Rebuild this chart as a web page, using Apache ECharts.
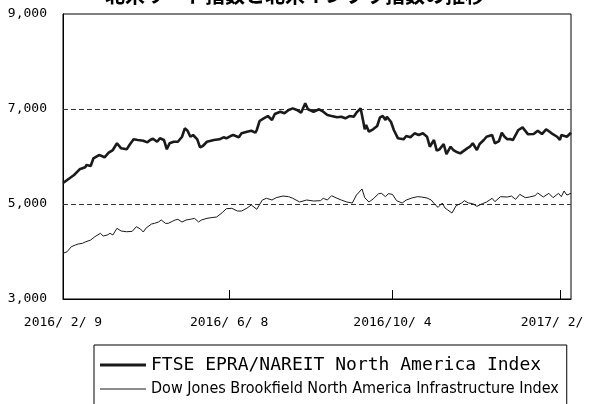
<!DOCTYPE html>
<html>
<head>
<meta charset="utf-8">
<script src="https://cdn.jsdelivr.net/npm/echarts@6/dist/echarts.min.js"></script>
<style>
html,body{margin:0;padding:0;background:#fff;}
#chart{width:590px;height:404px;}
</style>
</head>
<body>
<div id="chart"></div>
<script>
var titleText = '北米リート指数と北米インフラ指数の推移';
var seriesNames = ['FTSE EPRA/NAREIT North America Index', 'Dow Jones Brookfield North America Infrastructure Index'];
var yTicks = [3000, 5000, 7000, 9000];
var dashedLevels = [5000, 7000];
var xTickDates = ['2016-02-09', '2016-06-08', '2016-10-04', '2017-02-02'];
var xRange = ['2016-02-09', '2017-02-10'];

var ftseDates = ['2016-02-09','2016-02-17','2016-02-21','2016-02-25','2016-02-26','2016-02-29','2016-03-02','2016-03-06','2016-03-08','2016-03-10','2016-03-13','2016-03-16','2016-03-19','2016-03-22','2016-03-26','2016-03-28','2016-03-31','2016-04-03','2016-04-07','2016-04-10','2016-04-12','2016-04-14','2016-04-17','2016-04-19','2016-04-22','2016-04-24','2016-04-26','2016-04-29','2016-05-02','2016-05-05','2016-05-07','2016-05-09','2016-05-11','2016-05-13','2016-05-16','2016-05-18','2016-05-20','2016-05-23','2016-05-28','2016-06-01','2016-06-04','2016-06-06','2016-06-09','2016-06-11','2016-06-15','2016-06-17','2016-06-21','2016-06-24','2016-06-27','2016-06-28','2016-06-30','2016-07-03','2016-07-06','2016-07-09','2016-07-11','2016-07-15','2016-07-18','2016-07-21','2016-07-24','2016-07-27','2016-07-30','2016-08-02','2016-08-04','2016-08-08','2016-08-12','2016-08-15','2016-08-18','2016-08-21','2016-08-25','2016-08-28','2016-08-31','2016-09-03','2016-09-06','2016-09-08','2016-09-11','2016-09-13','2016-09-14','2016-09-15','2016-09-17','2016-09-20','2016-09-23','2016-09-25','2016-09-27','2016-09-29','2016-09-30','2016-10-03','2016-10-05','2016-10-08','2016-10-12','2016-10-14','2016-10-17','2016-10-20','2016-10-23','2016-10-26','2016-10-29','2016-10-31','2016-11-03','2016-11-05','2016-11-07','2016-11-10','2016-11-12','2016-11-15','2016-11-17','2016-11-19','2016-11-22','2016-11-24','2016-11-27','2016-11-29','2016-12-01','2016-12-04','2016-12-06','2016-12-09','2016-12-11','2016-12-15','2016-12-17','2016-12-20','2016-12-22','2016-12-24','2016-12-26','2016-12-28','2016-12-30','2017-01-03','2017-01-06','2017-01-10','2017-01-14','2017-01-17','2017-01-20','2017-01-23','2017-01-27','2017-01-31','2017-02-02','2017-02-03','2017-02-07','2017-02-10'];
var ftseValues = [5442,5610,5730,5772,5821,5800,5962,6031,6010,5983,6080,6136,6278,6172,6151,6242,6362,6347,6332,6298,6347,6374,6311,6383,6347,6151,6278,6311,6311,6416,6593,6543,6416,6452,6362,6193,6221,6311,6347,6362,6404,6383,6431,6452,6404,6488,6522,6543,6501,6558,6747,6804,6852,6768,6894,6943,6909,6979,7014,6979,6922,7120,6994,6943,6994,6943,6873,6852,6825,6838,6804,6852,6838,6922,7014,6726,6573,6663,6522,6573,6642,6825,6852,6768,6838,6726,6558,6383,6362,6431,6404,6488,6452,6488,6416,6206,6347,6123,6151,6263,6052,6206,6136,6101,6066,6108,6172,6206,6278,6136,6263,6347,6416,6452,6278,6326,6501,6416,6362,6368,6347,6558,6614,6467,6473,6543,6473,6573,6488,6416,6347,6452,6416,6501];

var djbDates = ['2016-02-09','2016-02-12','2016-02-15','2016-02-18','2016-02-20','2016-02-23','2016-02-25','2016-02-29','2016-03-03','2016-03-07','2016-03-09','2016-03-12','2016-03-14','2016-03-16','2016-03-19','2016-03-22','2016-03-26','2016-03-30','2016-04-02','2016-04-05','2016-04-07','2016-04-09','2016-04-13','2016-04-15','2016-04-18','2016-04-20','2016-04-23','2016-04-25','2016-04-28','2016-04-30','2016-05-02','2016-05-05','2016-05-08','2016-05-12','2016-05-14','2016-05-17','2016-05-19','2016-05-23','2016-05-26','2016-05-30','2016-06-03','2016-06-06','2016-06-10','2016-06-14','2016-06-17','2016-06-21','2016-06-24','2016-06-28','2016-07-02','2016-07-05','2016-07-09','2016-07-12','2016-07-17','2016-07-21','2016-07-24','2016-07-29','2016-08-03','2016-08-08','2016-08-13','2016-08-15','2016-08-18','2016-08-21','2016-08-25','2016-08-28','2016-09-01','2016-09-05','2016-09-08','2016-09-12','2016-09-14','2016-09-17','2016-09-20','2016-09-24','2016-09-26','2016-09-29','2016-10-01','2016-10-04','2016-10-07','2016-10-11','2016-10-14','2016-10-18','2016-10-22','2016-10-25','2016-10-29','2016-11-01','2016-11-04','2016-11-06','2016-11-09','2016-11-11','2016-11-13','2016-11-16','2016-11-19','2016-11-23','2016-11-25','2016-11-28','2016-12-01','2016-12-04','2016-12-08','2016-12-11','2016-12-15','2016-12-17','2016-12-21','2016-12-26','2016-12-29','2017-01-01','2017-01-04','2017-01-08','2017-01-11','2017-01-15','2017-01-17','2017-01-21','2017-01-25','2017-01-28','2017-02-01','2017-02-03','2017-02-05','2017-02-07','2017-02-10'];
var djbValues = [3962,3996,4101,4137,4158,4172,4200,4242,4311,4383,4326,4347,4383,4347,4488,4431,4416,4425,4522,4473,4410,4494,4579,4593,4621,4663,4593,4593,4635,4663,4677,4621,4663,4684,4698,4621,4663,4698,4712,4726,4817,4901,4909,4852,4852,4915,4979,4888,5084,5120,5084,5133,5168,5154,5120,5042,5084,5063,5070,5120,5084,5175,5120,5084,5042,5021,5189,5316,5133,5042,5105,5217,5225,5154,5217,5203,5070,5021,5084,5126,5154,5147,5126,5084,4979,4930,5021,4915,4874,4810,4964,5021,5070,5021,5007,4951,5007,5042,5120,5049,5154,5147,5168,5098,5203,5133,5147,5175,5231,5147,5225,5133,5225,5154,5274,5189,5225];

function toTime(s) {
  var p = s.split('-');
  return +new Date(+p[0], +p[1] - 1, +p[2]);
}
function zip(ds, vs) {
  return ds.map(function (d, i) { return [toTime(d), vs[i]]; });
}
function pad(n) { return (n < 10 ? ' ' : '') + n; }

var monoFont = "'DejaVu Sans Mono', monospace";
var chart = echarts.init(document.getElementById('chart'), null, {renderer: 'canvas'});
chart.setOption({
  animation: false,
  backgroundColor: '#fff',
  title: {
    text: titleText,
    left: 'center',
    top: -20,
    textStyle: {fontSize: 20, fontWeight: 'bold', color: '#000', fontFamily: "'Noto Sans CJK JP'"}
  },
  grid: {left: 63, right: 19, top: 14, bottom: 105, outerBoundsMode: 'none', containLabel: false,
         show: true, borderColor: '#000', borderWidth: 1, backgroundColor: 'transparent'},
  xAxis: {
    type: 'value',
    min: toTime(xRange[0]),
    max: toTime(xRange[1]),
    axisLine: {show: true, onZero: false, lineStyle: {color: '#000', width: 1}},
    axisTick: {show: true, inside: true, length: 9, lineStyle: {color: '#000'}, customValues: xTickDates.map(toTime)},
    axisLabel: {
      customValues: xTickDates.map(toTime),
      showMinLabel: true, showMaxLabel: true, hideOverlap: false,
      color: '#000', fontSize: 13, fontFamily: monoFont, margin: 17,
      formatter: function (v) {
        var d = new Date(v);
        return d.getFullYear() + '/' + pad(d.getMonth() + 1) + '/' + pad(d.getDate());
      }
    },
    splitLine: {show: false}
  },
  yAxis: {
    type: 'value',
    min: yTicks[0],
    max: yTicks[yTicks.length - 1],
    axisLine: {show: true, lineStyle: {color: '#000', width: 1}},
    axisTick: {show: false},
    splitLine: {show: false},
    axisLabel: {
      customValues: yTicks,
      color: '#000', fontSize: 13, fontFamily: monoFont, margin: 16,
      formatter: function (v) { return echarts.format.addCommas(v); }
    }
  },
  legend: {
    orient: 'vertical',
    left: 94,
    top: 345,
    padding: [11, 8, 8, 6],
    itemGap: 7,
    itemWidth: 46,
    itemHeight: 14,
    borderColor: '#000',
    borderWidth: 1,
    data: [
      {name: seriesNames[0], icon: 'path://M0,0M46,14M0,5.6h46v2.8h-46z'},
      {name: seriesNames[1], icon: 'path://M0,0M46,14M0,6.5h46v1h-46z'}
    ],
    formatter: function (name) {
      return name === seriesNames[0] ? '{a|' + name + '}' : '{b|' + name + '}';
    },
    textStyle: {
      color: '#000',
      rich: {
        a: {fontSize: 18, fontFamily: monoFont, color: '#000'},
        b: {fontSize: 16, fontFamily: "'Liberation Sans Narrow', 'DejaVu Sans Condensed', sans-serif", color: '#000'}
      }
    }
  },
  series: [
    {
      name: seriesNames[0],
      type: 'line',
      symbol: 'none',
      data: zip(ftseDates, ftseValues),
      lineStyle: {color: '#1a1a1a', width: 2.6},
      itemStyle: {color: '#1a1a1a'},
      z: 3,
      markLine: {
        silent: true,
        symbol: 'none',
        label: {show: false},
        lineStyle: {type: [5, 3], color: '#333', width: 1},
        data: dashedLevels.map(function (v) { return {yAxis: v}; }),
        z: 1
      }
    },
    {
      name: seriesNames[1],
      type: 'line',
      symbol: 'none',
      data: zip(djbDates, djbValues),
      lineStyle: {color: '#1a1a1a', width: 1},
      itemStyle: {color: '#1a1a1a'},
      z: 3
    }
  ]
});
</script>
</body>
</html>
